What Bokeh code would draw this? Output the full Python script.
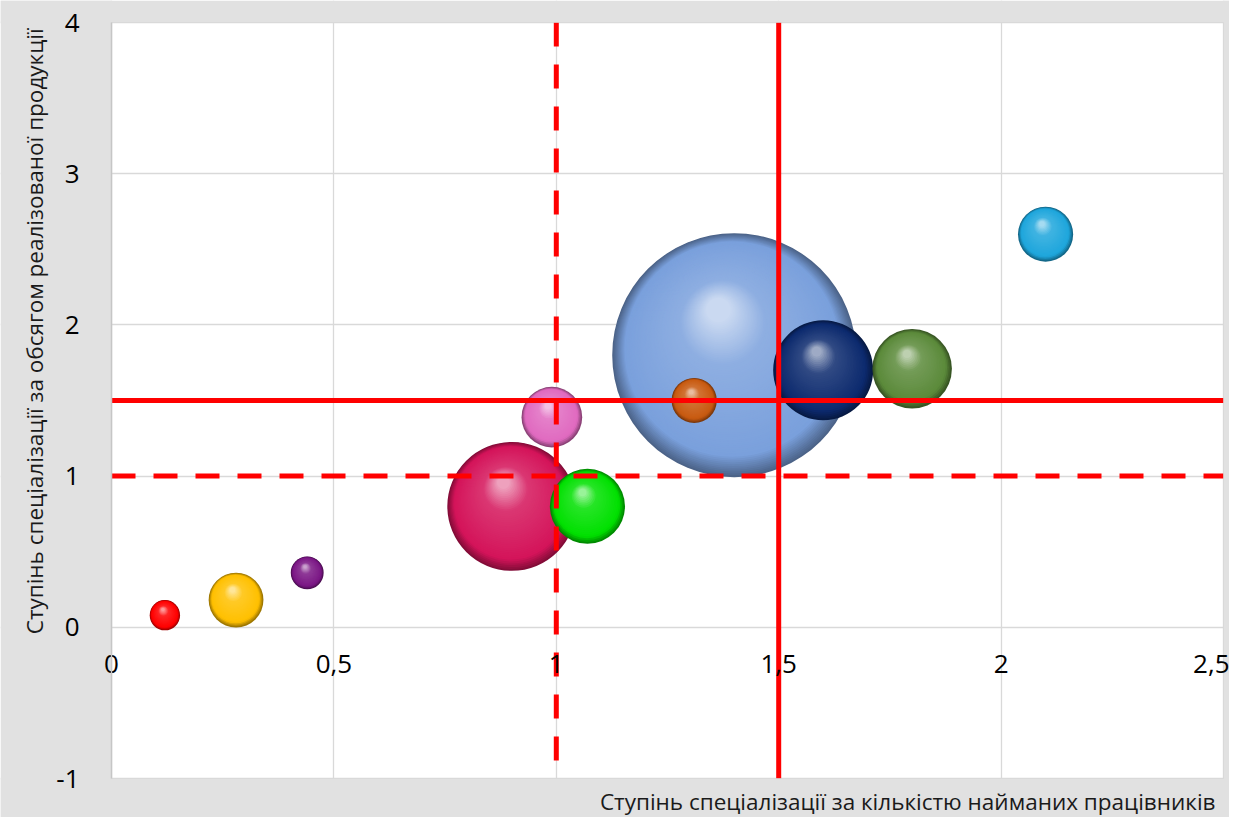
import numpy as np
from bokeh.plotting import figure
from bokeh.models import ColumnDataSource, Range1d, FixedTicker, Label, BoxAnnotation
from bokeh.embed import file_html
from bokeh.resources import INLINE

# ---------------- data ----------------
x_vals = [0.12, 0.28, 0.44, 0.90, 0.99, 1.07, 1.31, 1.40, 1.60, 1.80, 2.10]
y_vals = [0.08, 0.18, 0.36, 0.80, 1.39, 0.80, 1.50, 1.80, 1.70, 1.71, 2.60]
bubble_sizes = [2.3, 7.5, 2.7, 41.6, 9.2, 14.1, 5.1, 148.8, 25.0, 15.8, 7.6]
bubble_colors = ["#ff0000", "#ffc000", "#7b1785", "#d4145a", "#e06ac0", "#00e000",
                 "#c85a10", "#7aa0dc", "#0c2a6e", "#5b8a3a", "#1ea6dc"]

x_ticks = [0, 0.5, 1, 1.5, 2, 2.5]
x_tick_labels = ["0", "0,5", "1", "1,5", "2", "2,5"]
y_ticks = [-1, 0, 1, 2, 3, 4]
y_tick_labels = ["-1", "0", "1", "2", "3", "4"]

x_threshold_dashed = 1.0
x_threshold_solid = 1.5
y_threshold_dashed = 1.0
y_threshold_solid = 1.5

x_title = "Ступінь спеціалізації за кількістю найманих працівників"
y_title = "Ступінь спеціалізації за обсягом реалізованої  продукції"

# ---------------- layout ----------------
W, H = 1229, 817
PA_LEFT, PA_RIGHT, PA_TOP, PA_BOTTOM = 111, 1223, 22, 778   # plot-area pixels
X0, X1, Y0, Y1 = 0.0, 2.5, -1.0, 4.0
ppx = (PA_RIGHT - PA_LEFT) / (X1 - X0)
ppy = (PA_BOTTOM - PA_TOP) / (Y1 - Y0)
xr = Range1d(X0 - PA_LEFT / ppx, X1 + (W - PA_RIGHT) / ppx)
yr = Range1d(Y0 - (H - PA_BOTTOM) / ppy, Y1 + PA_TOP / ppy)
MAX_R = 122.0
FONT = "Open Sans"
GREY_BG = "#e1e1e1"


def hex2rgb(h):
    h = h.lstrip("#")
    return tuple(int(h[i:i + 2], 16) for i in (0, 2, 4))


def rgb2hex(c):
    return "#%02x%02x%02x" % tuple(int(max(0, min(255, round(v)))) for v in c)


def mix(a, b, t):
    return tuple(a[i] + (b[i] - a[i]) * t for i in range(3))


WHITE = (255, 255, 255)

# build shaded sphere layers (largest bubbles drawn first)
order = list(np.argsort(bubble_sizes)[::-1])
smax = max(bubble_sizes)
lx, ly, lr, lc = [], [], [], []
for i in order:
    r = MAX_R * np.sqrt(bubble_sizes[i] / smax)
    n = int(max(26, r * 0.7))
    base = hex2rgb(bubble_colors[i])
    dark = tuple(c * 0.62 for c in base)
    light1 = mix(base, WHITE, 0.15)
    light2 = mix(base, WHITE, 0.6)
    for k in range(n):
        t = k / (n - 1)
        if t < 0.13:
            col = mix(dark, base, t / 0.13)
        elif t < 0.72:
            col = mix(base, light1, (t - 0.13) / 0.59)
        else:
            col = mix(light1, light2, (t - 0.72) / 0.28)
        lx.append(x_vals[i] + (-0.13 * r * t) / ppx)
        ly.append(y_vals[i] + (0.37 * r * t) / ppy)
        lr.append(r * (1 - 0.9 * t))
        lc.append(rgb2hex(col))

src = ColumnDataSource(dict(x=lx, y=ly, r=lr, c=lc))

p = figure(width=W, height=H, x_range=xr, y_range=yr,
           output_backend="svg", toolbar_location=None, title=None,
           min_border_left=0, min_border_right=0, min_border_top=0, min_border_bottom=0,
           x_axis_location="below", y_axis_location="left")

p.background_fill_color = "white"
p.border_fill_color = GREY_BG
p.outline_line_color = None

xt = FixedTicker(ticks=x_ticks)
yt = FixedTicker(ticks=y_ticks)
p.xaxis.ticker = xt
p.yaxis.ticker = yt
p.xgrid.ticker = xt
p.ygrid.ticker = yt
p.xgrid.grid_line_color = "#d9d9d9"
p.ygrid.grid_line_color = "#d9d9d9"
p.xgrid.grid_line_width = 1.3
p.ygrid.grid_line_width = 1.3

p.xaxis.major_label_overrides = dict(zip(x_ticks, x_tick_labels))
p.yaxis.major_label_overrides = dict(zip(y_ticks, y_tick_labels))
p.xaxis.fixed_location = 0
p.yaxis.fixed_location = X0
p.xaxis.bounds = (X0, X1)
p.yaxis.bounds = (Y0, Y1)

for ax in (p.xaxis, p.yaxis):
    ax.level = "overlay"
    ax.major_tick_in = 0
    ax.major_tick_out = 0
    ax.minor_tick_in = 0
    ax.minor_tick_out = 0
    ax.major_label_text_font = FONT
    ax.major_label_text_font_size = "26px"
    ax.major_label_text_color = "#000000"
p.xaxis.axis_line_color = None
p.yaxis.axis_line_color = "#c6c6c6"
p.yaxis.axis_line_width = 1.5
p.xaxis.major_label_standoff = 28
p.yaxis.major_label_standoff = 32

# bubbles
p.circle(x="x", y="y", radius="r", radius_units="screen", fill_color="c",
         line_color=None, source=src)

# threshold lines (red)
p.segment(x0=[x_threshold_dashed], y0=[Y1], x1=[x_threshold_dashed], y1=[Y0],
          line_color="#ff0000", line_width=5, line_dash="24 18")
p.segment(x0=[x_threshold_solid], y0=[Y1], x1=[x_threshold_solid], y1=[Y0],
          line_color="#ff0000", line_width=5)
p.segment(x0=[X0], y0=[y_threshold_dashed], x1=[X1], y1=[y_threshold_dashed],
          line_color="#ff0000", line_width=5, line_dash="24 18")
p.segment(x0=[X0], y0=[y_threshold_solid], x1=[X1], y1=[y_threshold_solid],
          line_color="#ff0000", line_width=5)

# grey surroundings outside the white plot area
for kw in (dict(right=X0), dict(left=X1), dict(top=Y0), dict(bottom=Y1)):
    p.add_layout(BoxAnnotation(fill_color=GREY_BG, fill_alpha=1.0, line_color=None,
                               level="annotation", **kw))
p.add_layout(BoxAnnotation(left=X0, right=X1, bottom=Y0, top=Y1, fill_alpha=0,
                           line_color="#d2d2d2", line_width=1, level="annotation"))

# axis titles
p.add_layout(Label(x=X1, y=Y0, x_offset=-8, y_offset=-7, text=x_title,
                   text_align="right", text_baseline="top", text_font=FONT,
                   text_font_size="22.5px", text_color="#1a1a1a", level="overlay"))
p.add_layout(Label(x=X0, y=Y1, x_offset=-77, y_offset=0, text=y_title, angle=np.pi / 2,
                   text_align="right", text_baseline="middle", text_font=FONT,
                   text_font_size="22.5px", text_color="#1a1a1a", level="overlay"))

open("out.html", "w").write(file_html(p, INLINE))
